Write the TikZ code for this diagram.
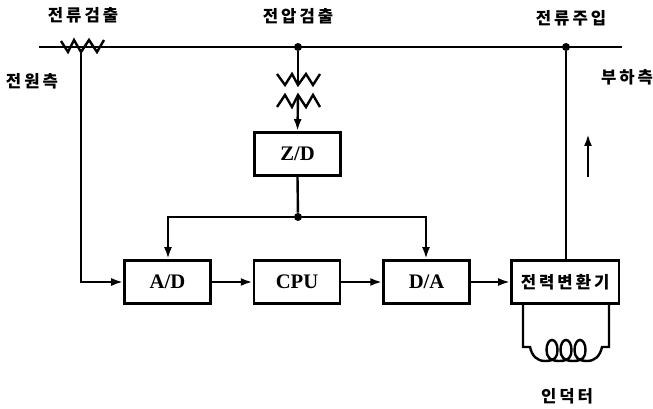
\documentclass[tikz,border=0pt]{standalone}
\usepackage{fontspec}
\setmainfont{Liberation Serif}
\newfontfamily\kor[LetterSpace=18,BoldFont={Noto Sans CJK KR Black}]{Noto Sans CJK KR}
\usepackage{xcolor}
\usetikzlibrary{arrows.meta,positioning}

\begin{document}
\begin{tikzpicture}[
    x=0.75pt, y=-0.75pt,
    node distance=30.75pt,
    auto,
    block/.style={rectangle, draw, line width=1.9pt, minimum width=64.5pt, minimum height=32.5pt, inner sep=0pt, font=\fontsize{15.5}{17}\selectfont\bfseries},
    title/.style={inner sep=0pt, font=\fontsize{12.5}{14}\kor\bfseries},
    line/.style={draw, -{Latex[length=9pt,width=6pt]}, line width=1.8pt},
    wire/.style={draw, line width=1.8pt},
    junction/.style={circle, fill=black, inner sep=0pt, minimum size=6pt}
]
    \useasboundingbox (0,0) rectangle (653,409);

    % Labels
    \node [title] (ilabel) at (83,15) {전류검출};
    \node [title] (vlabel) at (298,16) {전압검출};
    \node [title] (jlabel) at (571,18) {전류주입};
    \node [title] (srclabel) at (32,81) {전원측};
    \node [title] (loadlabel) at (627,77) {부하측};
    \node [title] (indlabel) at (567,396) {인덕터};

    % Blocks
    \node [block] (zd) at (297.5,154) {Z/D};
    \node [block] (ad) at (167.5,282) {A/D};
    \node [block, right=of ad] (cpu) {CPU};
    \node [block, right=of cpu] (da) {D/A};
    \node [block, minimum width=80.5pt, right=29.5pt of da, font=\fontsize{12.5}{14}\kor\bfseries] (conv) {전력변환기};

    % Bus
    \coordinate (busl) at (39,47);
    \coordinate (busr) at (622,47);
    \node [junction] (vtap) at (298,47) {};
    \node [junction] (jtap) at (566,47) {};
    \path [wire] (busl) -- (busr);

    % Current detection
    \coordinate (itap) at (81,50);
    \path [wire] (61,41) -- (68,52) -- (74,40) -- (81,52) -- (89,40) -- (97,52) -- (104,40);
    \path [line] (itap) |- (ad.west);

    % Voltage detection
    \coordinate (vup) at (298,85);
    \coordinate (vdn) at (298,95);
    \path [wire] (vtap) -- (vup);
    \path [wire] (277,74) -- (285,85) -- (292,74) -- (298,85) -- (306,74) -- (313,85) -- (320,74);
    \path [wire] (277,107) -- (285,95) -- (292,107) -- (298,95) -- (306,107) -- (313,95) -- (320,107);
    \path [line] (vdn) -- (zd.north);

    % Z/D to converters
    \node [junction] (split) at (298,217) {};
    \coordinate (adin) at (168,217);
    \coordinate (dain) at (426,217);
    \path [wire] (zd.south) -- (split);
    \path [line] (split) -- (adin) -- (ad.north -| adin);
    \path [line] (split) -- (dain) -- (da.north -| dain);

    % Signal chain
    \path [line] (ad) -- (cpu);
    \path [line] (cpu) -- (da);
    \path [line] (da) -- (conv);

    % Injection
    \path [wire] (conv.north -| jtap) -- (jtap);
    \coordinate (dirs) at (588,177);
    \coordinate (dire) at (588,134);
    \path [line] (dirs) -- (dire);

    % Inductor
    \coordinate (indl) at (523,347);
    \coordinate (indr) at (609,347);
    \path [wire] (conv.south -| indl) -- (indl) -- (530,347)
        .. controls (532,356) and (537,361) .. (545,361)
        \foreach \cx in {552,566,580} {
            .. controls (\cx+3,361) and (\cx+5.5,357) .. (\cx+5.5,350)
            .. controls (\cx+5.5,344) and (\cx+3,340) .. (\cx,340)
            .. controls (\cx-3,340) and (\cx-5.5,344) .. (\cx-5.5,350)
            .. controls (\cx-5.5,357) and (\cx-2,361) .. (\cx+7,361)
        }
        .. controls (595,361) and (600,356) .. (602,347) -- (indr) -- (conv.south -| indr);

\end{tikzpicture}
\end{document}
